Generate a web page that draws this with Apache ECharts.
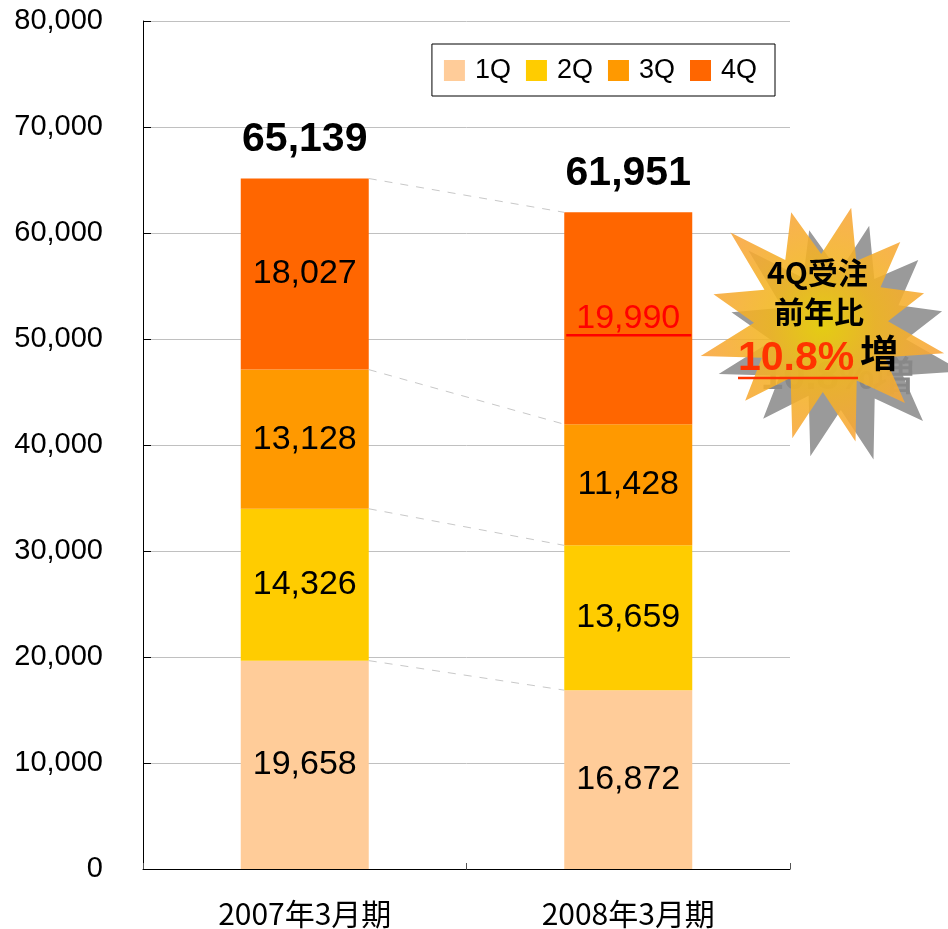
<!DOCTYPE html>
<html>
<head>
<meta charset="utf-8">
<script src="https://cdn.jsdelivr.net/npm/echarts@6/dist/echarts.min.js"></script>
<style>
html, body { margin: 0; padding: 0; background: #fff; }
#main { width: 948px; height: 929px; }
</style>
</head>
<body>
<div id="main"></div>
<script>
// 期と四半期ごとの受注
var periods = ['2007年3月期', '2008年3月期'];
var quarters = ['1Q', '2Q', '3Q', '4Q'];
var q1 = [19658, 16872];
var q2 = [14326, 13659];
var q3 = [13128, 11428];
var q4 = [18027, 19990];
var totals = [65139, 61951];
var colors = ['#FFCC99', '#FFCC00', '#FF9900', '#FF6600'];

var chart = echarts.init(document.getElementById('main'));
var font = "'Liberation Sans', Arial, sans-serif";
var jp = "'Noto Sans CJK JP', sans-serif";
var BAR_W = 128;
var fmt = function (v) { return v.toLocaleString('en-US'); };

var seriesData = [q1, q2, q3, q4];
var bars = seriesData.map(function (arr, k) {
  return {
    name: quarters[k],
    type: 'bar',
    stack: 'all',
    barWidth: BAR_W,
    itemStyle: { color: colors[k] },
    label: {
      show: true,
      position: 'inside',
      fontFamily: font,
      fontSize: 34,
      color: '#000',
      formatter: function (p) { return fmt(p.value); }
    },
    data: arr.map(function (v, i) {
      // 2008年の4Qだけ赤字
      if (k === 3 && i === 1) {
        return { value: v, label: { color: '#FF0000' } };
      }
      return v;
    }),
    z: 3
  };
});

// 累積値（区分線用）
var cum = periods.map(function (_, i) {
  var s = 0;
  return seriesData.map(function (arr) { s += arr[i]; return s; });
});

// 点線（シリーズ線）と下線
var seriesLines = {
  type: 'custom',
  silent: true,
  data: [0],
  z: 4,
  renderItem: function (params, api) {
    var children = [];
    for (var k = 0; k < 4; k++) {
      var a = api.coord([0, cum[0][k]]);
      var b = api.coord([1, cum[1][k]]);
      children.push({
        type: 'line',
        shape: { x1: a[0] + BAR_W / 2, y1: a[1], x2: b[0] - BAR_W / 2, y2: b[1] },
        style: { stroke: '#c8c8c8', lineWidth: 1, lineDash: [8, 8] }
      });
    }
    // 19,990 の下線
    var mid = api.coord([1, cum[1][2] + q4[1] / 2]);
    children.push({
      type: 'line',
      shape: { x1: mid[0] - BAR_W / 2 + 2, y1: mid[1] + 17, x2: mid[0] + BAR_W / 2 - 1, y2: mid[1] + 17 },
      style: { stroke: '#FF0000', lineWidth: 2.5 }
    });
    return { type: 'group', children: children };
  }
};

var totalLabels = {
  type: 'scatter',
  symbolSize: 0,
  silent: true,
  data: totals,
  itemStyle: { opacity: 1 },
  label: {
    show: true,
    position: 'top',
    distance: 18,
    fontFamily: font,
    fontWeight: 'bold',
    fontSize: 41,
    color: '#000',
    formatter: function (p) { return fmt(p.value); }
  },
  z: 5
};

// 爆発マーク
function starPoints(cx, cy, radii) {
  var pts = [];
  var n = radii.length;
  for (var i = 0; i < n; i++) {
    var ang = -Math.PI / 2 + (i / n) * Math.PI * 2 + 0.25;
    pts.push([cx + Math.cos(ang) * radii[i], cy + Math.sin(ang) * radii[i]]);
  }
  return pts;
}
var spikes = [118, 70, 112, 68, 106, 66, 126, 72, 116, 68, 124, 70, 120, 64, 110, 70, 126, 68, 112, 66, 128, 72, 114, 68];

var SX = 18, SY = 18; // 影のずれ
var graphics = [
  {
    type: 'polygon',
    shape: { points: starPoints(822 + SX, 322 + SY, spikes) },
    style: { fill: '#9a9a9a' },
    z: 20
  },
  {
    type: 'text', left: 739 + SX + 4, top: 336 + SY + 4, z: 20,
    style: { text: '10.8%増', font: "bold 40px " + font, fill: '#888' }
  },
  {
    type: 'polygon',
    shape: { points: starPoints(822, 322, spikes) },
    style: {
      fill: {
        type: 'radial', x: 0.5, y: 0.5, r: 0.5,
        colorStops: [
          { offset: 0, color: '#EED400' },
          { offset: 0.45, color: '#F2B61E' },
          { offset: 1, color: '#F8A63A' }
        ]
      },
      opacity: 0.88
    },
    z: 21
  },
  {
    type: 'text', left: 767, top: 258, z: 22,
    style: { text: '4Q受注', font: "bold 30px " + jp, fill: '#000' }
  },
  {
    type: 'text', left: 774, top: 297, z: 22,
    style: { text: '前年比', font: "bold 30px " + jp, fill: '#000' }
  },
  {
    type: 'text', left: 738, top: 338, z: 22,
    style: { text: '10.8%', font: "bold 41px " + font, fill: '#FF3300' }
  },
  {
    type: 'line', z: 22,
    shape: { x1: 738, y1: 378, x2: 858, y2: 378 },
    style: { stroke: '#FF3300', lineWidth: 2.5 }
  },
  {
    type: 'text', left: 860, top: 334, z: 22,
    style: { text: '増', font: "bold 38px " + jp, fill: '#000' }
  }
];

var option = {
  animation: false,
  backgroundColor: '#fff',
  color: colors,
  textStyle: { fontFamily: font },
  grid: { left: 143, right: 158, top: 21, bottom: 60 },
  legend: {
    data: quarters,
    right: 173,
    top: 44,
    itemWidth: 21,
    itemHeight: 21,
    itemGap: 15,
    padding: [13, 18, 12, 12],
    borderColor: '#000',
    borderWidth: 1,
    borderRadius: 0,
    icon: 'rect',
    textStyle: { fontFamily: font, fontSize: 27, color: '#000', padding: [0, 0, 0, 5] }
  },
  xAxis: {
    type: 'category',
    data: periods,
    axisLine: { lineStyle: { color: '#000', width: 1 } },
    axisTick: { show: true, inside: true, length: 6, lineStyle: { color: '#555' } },
    axisLabel: {
      margin: 30,
      fontFamily: jp,
      fontSize: 30,
      color: '#000'
    }
  },
  yAxis: {
    type: 'value',
    min: 0,
    max: 80000,
    interval: 10000,
    axisLine: { show: true, lineStyle: { color: '#000', width: 1 } },
    axisTick: { show: true, inside: true, length: 8, lineStyle: { color: '#000' } },
    splitLine: { lineStyle: { color: '#c0c0c0', width: 1 } },
    axisLabel: {
      margin: 40,
      fontFamily: font,
      fontSize: 29,
      color: '#000',
      formatter: function (v) { return fmt(v); }
    }
  },
  series: bars.concat([seriesLines, totalLabels]),
  graphic: graphics
};
chart.setOption(option);
</script>
</body>
</html>
